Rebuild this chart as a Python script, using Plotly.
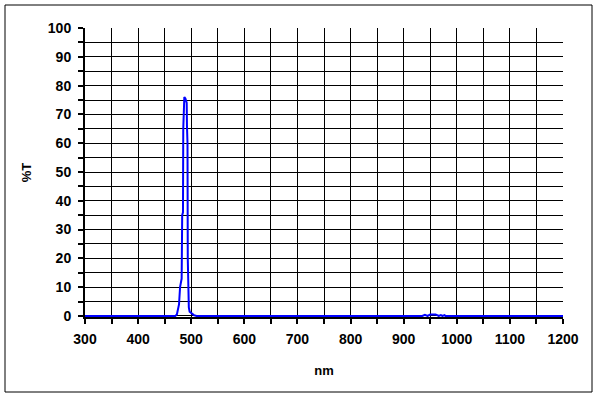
import plotly.graph_objects as go

wavelength_nm = [300, 470, 473, 475, 477, 479, 482, 483, 484.5, 485, 486.5, 487, 489, 491.5,
                 492, 493, 493.5, 494.5, 495.5, 497, 500, 505, 510,
                 935, 940, 945, 950, 955, 960, 963, 966, 970, 973, 977, 979, 982, 1200]
transmission_pct = [0, 0, 0.5, 2, 4, 10, 13, 35, 36, 65, 70, 76, 75.5, 74,
                    66, 60, 20, 8, 3, 1.5, 1, 0.3, 0,
                    0, 0.4, 0, 0.5, 0.6, 0.5, 0.3, 0, 0.3, 0, 0.3, 0, 0, 0]

x_ticks = list(range(300, 1201, 100))
y_ticks = list(range(0, 101, 10))

L, R, T, B = 85, 563, 28, 317
W, H = 597, 397
pw, ph = R - L, B - T

fig = go.Figure()
fig.add_trace(go.Scatter(x=wavelength_nm, y=transmission_pct, mode="lines",
                         line=dict(color="#0000FF", width=2), showlegend=False,
                         hoverinfo="skip"))

font = dict(family="Liberation Sans, Arial, sans-serif", size=14, color="black")

fig.update_layout(
    width=W, height=H,
    margin=dict(l=L, r=W - R, t=T, b=H - B, pad=0),
    paper_bgcolor="white", plot_bgcolor="white",
    font=font,
    xaxis=dict(range=[300, 1200], tickvals=x_ticks, ticktext=[f"<b>{v}</b>" for v in x_ticks],
               showgrid=True, gridcolor="black", gridwidth=1,
               showline=True, linecolor="black", linewidth=2,
               ticks="outside", ticklen=5, tickwidth=2, tickcolor="black",
               ticklabelstandoff=3,
               minor=dict(dtick=50, tick0=300, showgrid=True, gridcolor="black", gridwidth=1,
                          ticks="outside", ticklen=5, tickwidth=2, tickcolor="black"),
               zeroline=False, layer="below traces",
               title=dict(text="<b>nm</b>", font=dict(size=13), standoff=20)),
    yaxis=dict(range=[-0.35, 100], tickvals=y_ticks, ticktext=[f"<b>{v}</b>" for v in y_ticks],
               showgrid=True, gridcolor="black", gridwidth=1,
               showline=True, linecolor="black", linewidth=2,
               ticks="outside", ticklen=5, tickwidth=2, tickcolor="black",
               ticklabelstandoff=4,
               minor=dict(dtick=5, tick0=0, showgrid=True, gridcolor="black", gridwidth=1,
                          ticks="outside", ticklen=5, tickwidth=2, tickcolor="black"),
               zeroline=False, layer="below traces",
               title=dict(text="<b>%T</b>", font=dict(size=13), standoff=13)),
    shapes=[dict(type="rect", xref="paper", yref="paper",
                 x0=(5 - L) / pw, x1=(592 - L) / pw,
                 y0=(B - 392) / ph, y1=(B - 5) / ph,
                 line=dict(color="black", width=1), fillcolor="rgba(0,0,0,0)", layer="below")],
)

fig.write_html("out.html")
